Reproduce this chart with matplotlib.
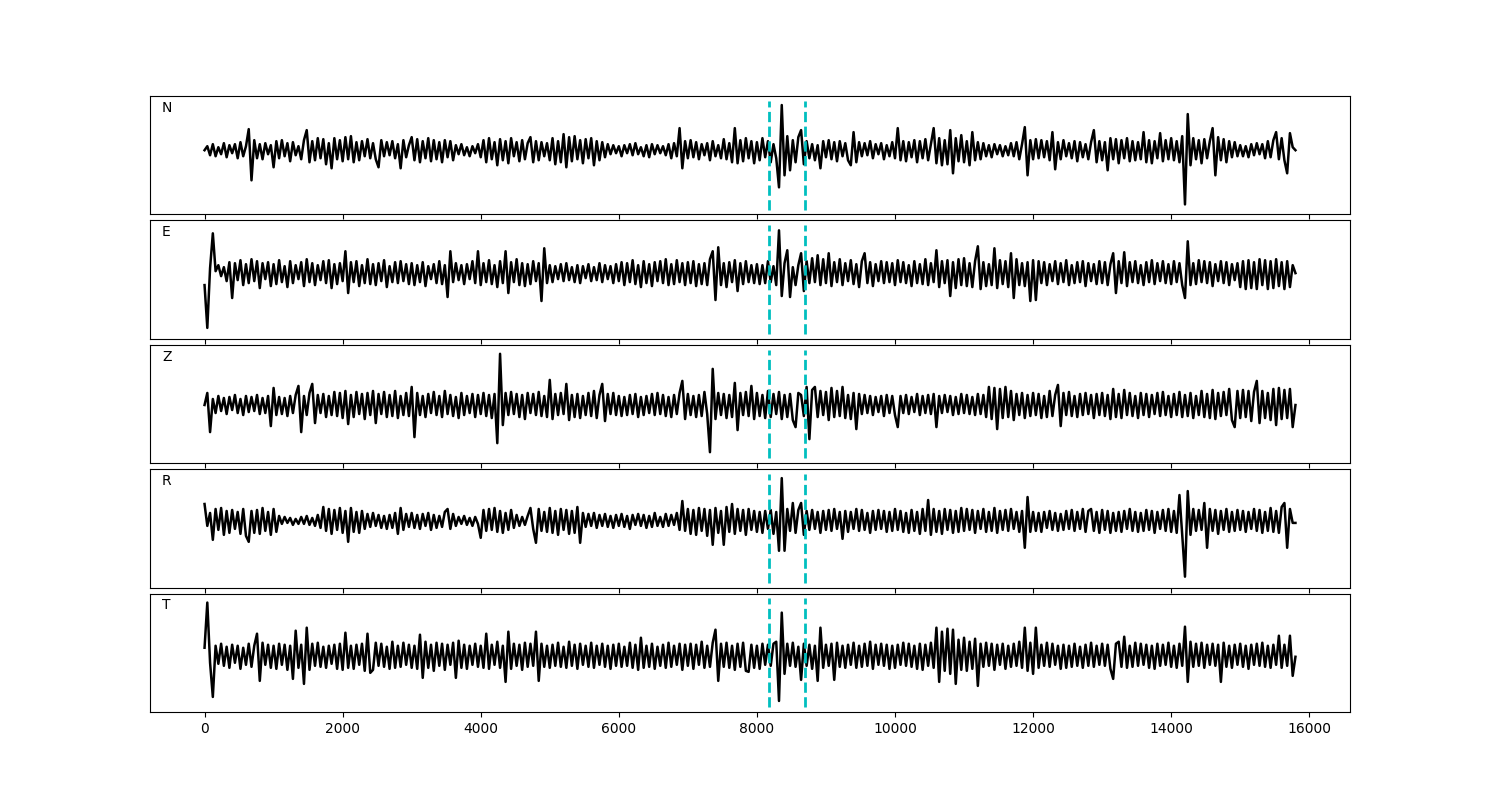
import numpy as np
import matplotlib
matplotlib.use('Agg')
import matplotlib.pyplot as plt

# amostras a cada 40 unidades (amplitude em unidades arbitrarias)
dt = 40
componentes = ['N', 'E', 'Z', 'R', 'T']
marcas = [8180, 8690]

N = [0, 4, -5, 6, -6, 3, -4, 7, -7, 5, -3, 6, -8, 8, -6, 4, 21, -30, 10, -8, 6, -9, 7, -4, 5,
     -17, 9, -8, 10, -6, 7, -11, 8, -5, 4, -9, 10, 20, -12, 9, -10, 12, -8, 11, -14, 7, -18, 12, -9, 10,
     -11, 13, -9, 14, -12, 8, -10, 9, -6, 11, -8, 7, -9, -17, 10, -6, 8, -5, 9, -8, 6, -18, 10, -7, 5,
     13, -10, 11, -12, 9, -8, 12, -11, 10, -9, 8, -12, 10, -7, 9, -10, 5, -4, 6, -5, 3, -6, 4, -3, 6,
     -7, 10, -12, 12, -9, 8, -15, 11, -10, 9, -13, 12, -6, 8, -11, 10, -9, 7, 13, -12, 9, -10, 8, -6, 7,
     -10, 12, -14, 9, -12, 16, -17, 13, -11, 14, -9, 10, -13, 11, -8, 12, -15, 9, -10, 8, -7, 6, -4, 5, -3,
     4, -6, 5, -3, 6, -5, 7, -4, 3, -6, 5, -7, 6, -4, 5, -3, 4, -5, 6, -8, 7, -6, 22, -18, 9,
     -8, 10, -7, 8, -9, 6, -5, 7, -10, 9, -6, 5, -8, 11, -9, 7, -12, 22, -13, 10, -11, 12, -8, 9, -13,
     8, -10, 12, -7, 9, -12, 6, -8, -37, 45, -25, 14, -20, 10, -12, 13, 20, -14, 9, -8, 6, -10, 5, -18, 9,
     -7, 10, -9, 8, -11, 9, -6, 7, -10, -15, 18, -12, 8, -6, 7, -5, 9, -8, 6, -4, 7, -9, 5, -6, 8,
     -8, 22, -10, 9, -11, 8, -7, 10, -12, 9, -8, 11, -10, 6, 22, -13, 12, -15, 10, -14, 20, -23, 12, -11, 15,
     -12, 9, -15, 18, -10, 8, -9, 7, -6, 5, -7, 6, -4, 5, -6, 4, -5, 7, -6, 8, -9, 6, 23, -25, 10,
     -9, 11, -8, 10, -7, 9, -10, 18, -19, 8, -9, 10, -6, 7, -8, 9, -11, 8, -7, 6, -9, 8, 20, -12, 9,
     -10, 8, -20, 12, -9, 11, -13, 10, -8, 12, -11, 9, -10, 8, -9, 18, -12, 10, -13, 9, -8, 17, -11, 10, -9,
     12, -10, 9, -12, 14, -54, 36, -15, 12, -9, 10, -13, 11, -8, 9, 22, -25, 13, -10, 11, -12, 9, -7, 8, -6,
     5, -6, 4, -7, 6, -5, 7, -4, 6, -8, 9, -7, 10, 18, -9, 12, -10, -23, 17, 3, 0]

E = [-12, -55, 5, 40, 2, 8, -3, 6, -8, 11, -25, 10, -7, 13, -12, 9, -10, 14, -8, 12, -15, 10, -6, 11, -13,
     9, -11, 13, -9, 7, -14, 12, -10, 8, -6, 11, -13, 14, -9, 10, -12, 8, -7, 12, -10, 13, -15, 9, -11, 10,
     -8, 22, -20, 11, -9, 12, -13, 8, -10, 14, -11, 9, -12, 10, -8, 13, -14, 7, -9, 11, -10, 12, -8, 9, -11,
     10, -12, 8, -9, 11, -13, 7, -6, 9, -10, 12, -11, 8, -24, 22, -9, 10, -7, 8, -11, 9, -6, 12, -10, 22,
     -12, 10, -9, 13, -11, 8, -14, 12, -10, 22, -20, 11, -9, 14, -12, 10, -13, 9, -11, 12, -8, 10, -28, 25, -10,
     8, -9, 7, -6, 9, -8, 10, -7, 6, -9, 8, -10, 7, -5, 9, -8, 6, -7, 10, -9, 8, -6, 7, -10, 9,
     -8, 11, -12, 10, -9, 13, -11, 8, -14, 12, -10, 9, -13, 11, -8, 12, -10, 14, -12, 9, -11, 13, -9, 10, -12,
     11, -10, 12, -13, 9, -11, 10, -12, 14, 22, -27, 26, -12, 10, -14, 11, -9, 13, -18, 10, -11, 12, -9, 8, -10,
     9, -11, 8, -10, 12, -9, 7, -12, 43, -23, 10, 23, -24, 6, -12, 8, 20, -18, 12, -10, 15, -9, 18, -12, 14,
     -10, 20, -13, 11, -9, 14, -12, 10, -8, 13, -11, 9, -14, 12, 20, -10, 11, -13, 9, -8, 12, -10, 11, -9, 10,
     -12, 13, -9, 11, -10, 8, -13, 12, -10, 9, -11, 14, -12, 10, -9, 23, -14, 12, -10, 13, -23, 11, -15, 14, -12,
     15, -13, 10, -14, 12, 27, -16, 11, -13, 9, -12, 25, -15, 13, -11, 12, -14, 20, -25, 14, -12, 10, -13, 11, -28,
     13, -27, 12, -10, 11, -12, 9, -8, 12, -11, 10, -9, 13, -12, 8, -10, 11, -9, 12, -13, 10, -8, 9, -11, 12,
     -10, 11, -12, 9, 20, -20, 12, -10, 21, -13, 11, -9, 12, -10, 8, -12, 11, -9, 13, -11, 10, -8, 12, -10, 9,
     -11, 12, -9, 10, -12, -25, 32, -12, 10, -11, 13, -9, 12, -10, 11, -13, 9, -8, 12, -10, 11, -12, 9, -7, 10,
     -14, 12, -16, 13, -15, 11, -16, 14, -12, 13, -16, 12, -15, 14, -13, 11, -16, 12, -14, 8, 0]

Z = [0, 12, -27, 6, -8, 9, -6, 7, -9, 8, -5, 10, -8, 6, -10, 9, -7, 8, -6, 10, -9, 7, -8, 9, -21,
     17, -10, 8, -9, 7, -11, 9, -8, 10, 19, -27, 9, -10, 12, 21, -18, 10, -8, 11, -12, 9, -10, 13, -11, 12,
     -13, 14, -19, 10, -12, 13, -9, 11, -14, 12, -10, 14, -18, 11, -9, 13, -12, 10, -11, 14, -13, 9, -10, 12, -11,
     18, -32, 12, -10, 9, -12, 11, -8, 13, -10, 9, -12, 14, -9, 10, -11, 8, -13, 12, -10, 9, -8, 11, -12, 10,
     -9, 12, -11, 10, -13, 11, -38, 51, -20, 12, -10, 13, -9, 11, -12, 10, -14, 12, -8, 11, -10, 13, -11, 9, -12,
     25, -14, 11, -10, 12, -9, 21, -15, 10, -12, 11, -13, 9, -10, 12, -11, 14, -13, 10, 21, -16, 11, -9, 12, -10,
     9, -11, 8, -10, 10, -9, 11, -12, 8, -10, 9, -8, 11, -10, 12, -9, 10, -11, 8, -12, 10, -9, 12, 24, -14,
     11, -10, 9, -12, 10, -11, 13, -9, -47, 36, -14, 12, -10, 11, -13, 10, -12, 22, -25, 12, -10, 13, -11, 19, -14,
     12, -11, 10, -13, 14, -12, 11, -9, 13, -14, 10, -12, 11, -15, -22, 12, 10, -11, 18, -34, 15, 18, -12, 14, -10,
     13, -15, 17, -12, 14, -11, 18, -13, 10, -14, 12, -24, 11, -9, 10, -8, 9, -10, 8, -7, 9, -11, 10, -8, 9,
     -10, -22, 9, -8, 10, -9, 8, -7, 11, -10, 9, -8, 10, -9, 11, -22, 9, -8, 10, -7, 9, -10, 8, -9, 11,
     -8, 10, -9, 8, -10, 11, -9, 10, -12, 18, -14, 17, -24, 16, -13, 18, -12, 14, -15, 11, -10, 12, -13, 10, -11,
     12, -10, 11, -13, 9, -12, 14, -11, 10, 20, -21, 12, -10, 13, -11, 9, -12, 11, -10, 12, -9, 10, -13, 11, -10,
     12, -11, 10, -14, 16, -12, 11, -13, 15, -10, 12, -11, 9, -13, 12, -10, 11, -12, 10, -9, 12, -11, 13, -10, 9,
     -12, 11, -10, 13, -12, 10, -11, 12, -13, 9, -10, 14, -12, 11, -13, 15, -14, 12, -11, 13, -10, 16, -15, -22, 14,
     -13, 15, -12, 14, -16, 13, 24, -18, 14, -13, 12, -15, 16, -20, 17, -14, 15, -13, 16, -22, 0]

R = [17, -5, 8, -19, 12, -9, 13, -14, 10, -12, 11, -8, 9, -13, 12, -15, -21, 10, -12, 11, -13, 13, -10, 9, -14,
     12, -11, 5, -3, 4, -2, 3, -4, 2, -3, 4, -3, 5, -4, 3, -5, 6, -7, 14, -10, 12, -13, 11, -9, 13,
     -12, 10, -21, 13, -11, 9, -12, 10, -8, 7, -6, 8, -5, 6, -7, 5, -8, 6, -7, 8, -13, 13, -9, 7, -6,
     8, -7, 6, -8, 7, -5, 8, -9, 6, -7, 5, -6, 9, 12, -8, 7, -5, 4, -3, 5, -4, 3, -5, 4, -3,
     -17, 11, -10, 12, -9, 13, -11, 10, -12, 8, -9, 11, -7, 6, -5, 4, -4, 5, 13, -8, -22, 12, -10, 9, -11,
     13, -12, 10, -14, 12, -9, 11, -13, 10, -12, 14, -22, 8, -6, 7, -5, 8, -7, 6, -5, 7, -6, 5, -7, 6,
     -5, 7, -6, 5, -8, 6, -4, 7, -5, 6, -7, 5, -6, 8, -5, 4, -6, 7, -5, 6, -4, 8, -9, 20, -10,
     12, -13, 11, -14, 13, -10, 12, -15, 11, -24, 13, -12, 10, -24, 14, -11, 17, -13, 12, -10, 11, -14, 12, -9, 10,
     -11, 9, -12, 10, -8, 11, -13, 9, -30, 43, -30, 12, -10, 18, -12, 11, 18, -14, 10, -9, 11, -8, 9, -12, 10,
     -9, 11, -10, 12, -8, 9, -18, 10, -11, 9, -8, 12, -10, 11, -9, 8, -12, 10, -9, 11, -8, 10, -11, 9, -10,
     12, -9, 10, -11, 8, -12, 11, -10, 9, -13, 12, -10, 21, -14, 12, -11, 10, -13, 12, -9, 11, -12, 10, -11, 13,
     -10, 12, -9, 11, -12, 10, -8, 12, -11, 9, -10, 13, -12, 10, -9, 11, -10, 12, -8, 9, -11, 10, -27, 24, -11,
     9, -10, 8, -11, 9, -7, 10, -9, 8, -10, 7, -9, 10, -8, 11, -10, 9, -8, 12, -11, 10, 12, -10, 9, -12,
     11, -9, 10, -12, 8, -10, 9, -11, 10, -8, 12, -10, 9, -11, 8, -10, 11, -9, 10, -12, 9, -8, 11, -10, 12,
     -11, 10, -12, 26, -14, -56, 30, -14, 12, -10, 11, -9, 18, -27, 12, -10, 11, -13, 10, -9, 12, -11, 9, -10, 11,
     -9, 10, -11, 9, -8, 12, -10, 11, -12, 9, -10, 13, -11, 10, -12, 14, 18, -27, 12, -2, -2]

T = [8, 53, -7, -41, 10, -8, 12, -10, 9, -12, 11, -7, 10, -13, 8, -9, 12, -11, 10, 22, -25, 13, -9, 11, -12,
     10, -13, 12, -9, 11, -14, 10, -23, 25, -12, 11, -28, 28, -14, 12, -10, 13, -11, 9, -12, 10, -8, 11, -13, 12,
     -14, 23, -12, 10, -13, 11, -9, 12, -15, 22, -17, -14, 13, -10, 12, -11, 9, -13, 14, -12, 10, -11, 13, -9, 11,
     -12, 10, -13, 21, -22, 14, -12, 11, -15, 13, -10, 12, -14, 11, -9, 13, -22, 15, -12, 11, -13, 10, -9, 12, -11,
     10, -12, 22, -13, 11, -9, 14, -12, 10, -26, 24, -13, 12, -10, 11, -14, 13, -11, 12, -10, 24, -25, 12, -11, 10,
     -12, 11, -10, 13, -11, 9, -12, 14, -10, 11, -13, 12, -9, 10, -11, 13, -12, 10, -9, 12, -11, 10, -13, 11, -10,
     12, -11, 9, -10, 13, -12, 11, -14, 18, -12, 10, -11, 12, -13, 9, -10, 11, -12, 13, -11, 10, -9, 12, -14, 11,
     -10, 12, -13, 11, -9, 14, -12, 10, -11, 13, 26, -25, 12, -11, 13, -12, 10, -14, 12, -11, 13, -15, -16, 11, -12,
     10, -13, 12, -9, 11, -10, 12, 14, -45, 43, -18, 12, -10, 13, -11, 9, -24, 12, -10, 11, -13, 10, -25, 28, -12,
     11, -10, 12, -24, 13, -11, 10, -12, 11, -9, 13, -12, 10, -11, 12, -10, 14, -13, 11, -9, 12, -10, 11, -13, 10,
     -12, 11, -9, 13, -10, 12, -11, 10, -13, 12, -14, 11, -10, 13, -12, 28, -26, 24, -15, 27, -18, 26, -28, 16, -14,
     18, -15, 14, -13, 17, -30, 12, -11, 13, -10, 12, -14, 11, -9, 12, -13, 10, -11, 12, -10, 14, -12, 28, -15, 13,
     -18, 28, -12, 11, -10, 13, -11, 12, -9, 10, -13, 11, -12, 10, -11, 12, -10, 9, -12, 11, -10, 13, -11, 10, -9,
     12, -10, 11, -13, -23, 12, 14, -11, 19, -12, 10, -11, 13, -10, 12, -9, 11, -12, 10, -13, 12, -10, 11, -9, 13,
     -11, 10, -12, 12, -10, 29, -26, 14, -11, 12, -10, 13, -12, 11, -9, 12, -10, 11, -26, 13, -11, 10, -12, 11, -9,
     12, -11, 10, -13, 11, -9, 12, -10, 13, -11, 10, -12, 11, -9, 20, -12, 11, -10, 20, -20, -1]

traces = [N, E, Z, R, T]
limites = [(-64, 54), (-66, 53), (-58, 60), (-67, 52), (-56, 62)]

###########################################

fig, axs = plt.subplots(5, 1, sharex=True, figsize=(15, 8), dpi=100)
fig.subplots_adjust(left=0.1, right=0.9, top=0.88, bottom=0.11, hspace=0.05)

for ax, nome, y, lim in zip(axs, componentes, traces, limites):
    t = np.arange(len(y)) * dt
    ax.plot(t, y, '-k', linewidth=1.8)
    for m in marcas:
        ax.axvline(m, ymin=0.04, ymax=0.96, color='c', linestyle='--', linewidth=2)
    ax.set_ylim(lim)
    ax.set_yticks([])
    ax.text(0.01, 0.9, nome, transform=ax.transAxes, va='center', fontsize=10)

axs[-1].set_xlim(-790, 16590)
axs[-1].set_xticks(np.arange(0, 16001, 2000))

plt.savefig('out.png')
